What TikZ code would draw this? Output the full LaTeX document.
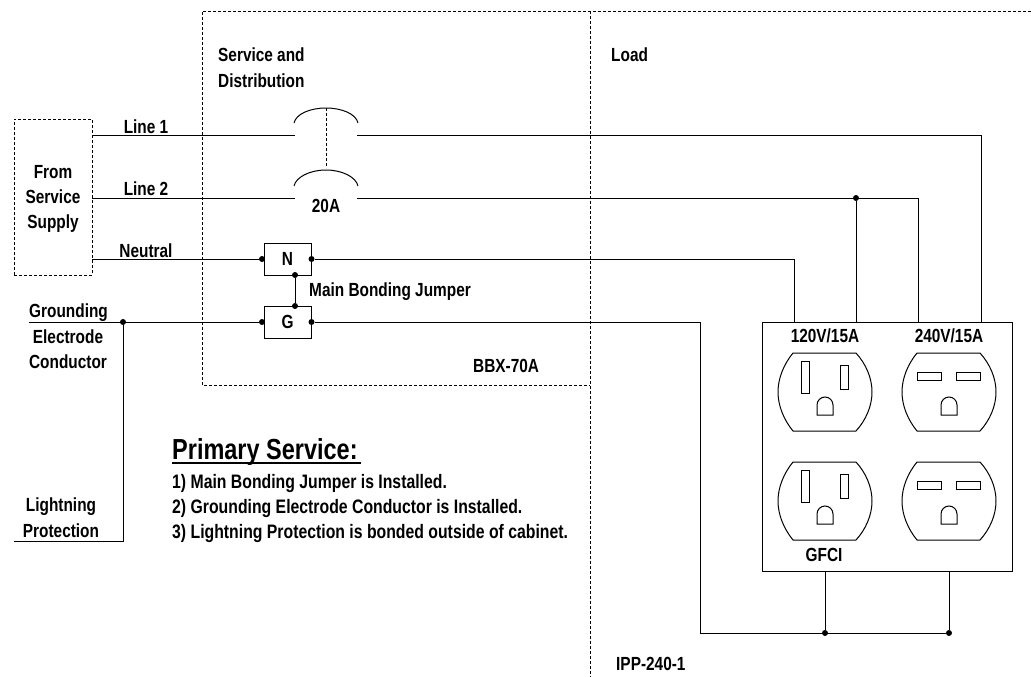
\documentclass[tikz,border=0pt]{standalone}
\usepackage{fontspec}
\setmainfont[FakeStretch=0.81]{Liberation Sans}
\tikzset{
  wire/.style={line width=1pt},
  dashline/.style={line width=0.8pt,densely dashed},
  lbl/.style={inner sep=0pt,anchor=base,font=\fontsize{19}{19}\selectfont\bfseries},
  lbll/.style={lbl,anchor=base west},
  note/.style={lbll,font=\fontsize{19.5}{19.5}\selectfont\bfseries},
  term/.style={draw,wire,minimum width=47pt,minimum height=32pt,inner sep=0pt,font=\fontsize{19}{19}\selectfont\bfseries},
  tdot/.style={circle,fill=black,inner sep=0pt,minimum size=6pt},
}
% one outlet face, slot shapes come after
\newcommand{\outletface}[2]{
  \draw[wire] (#1-32,#2-39) -- (#1+31,#2-39) .. controls (#1+41,#2-28) and (#1+47,#2-14) .. (#1+47,#2)
    .. controls (#1+47,#2+14) and (#1+41,#2+28) .. (#1+31,#2+39) -- (#1-32,#2+39)
    .. controls (#1-41,#2+28) and (#1-47,#2+14) .. (#1-47,#2)
    .. controls (#1-47,#2-14) and (#1-41,#2-28) .. (#1-32,#2-39) -- cycle;
  \draw[wire] (#1-8,#2+23) -- (#1-8,#2+13) arc[start angle=180,end angle=360,radius=8] -- (#1+8,#2+23) -- cycle;
}
\newcommand{\vslots}[2]{
  \draw[wire] (#1-24,#2-31) rectangle (#1-16,#2+1);
  \draw[wire] (#1+15,#2-27) rectangle (#1+23,#2-3);
}
\newcommand{\hslots}[2]{
  \draw[wire] (#1-32,#2-20) rectangle (#1-8,#2-12);
  \draw[wire] (#1+7,#2-20) rectangle (#1+31,#2-12);
}
\begin{document}
\begin{tikzpicture}[x=1pt,y=-1pt]
  \useasboundingbox (0,0) rectangle (1031,677);
  % dashed areas
  \node[draw,dashline,minimum width=78pt,minimum height=156pt,inner sep=0pt] (supply) at (53,197) {};
  \coordinate (svcA) at (202,11);
  \coordinate (svcB) at (590,11);
  \coordinate (svcC) at (590,385);
  \coordinate (svcD) at (202,385);
  \coordinate (loadEnd) at (590,677);
  \coordinate (loadTop) at (1031,11);
  \draw[dashline] (loadTop) -- (svcA) -- (svcD) -- (svcC);
  \draw[dashline] (svcB) -- (loadEnd);
  % terminals
  \node[term] (N) at (287.5,259) {N};
  \node[term] (G) at (287.5,322) {G};
  \node[tdot,xshift=-1.5pt] (Nin) at (N.west) {};
  \node[tdot] (Nout) at (N.east) {};
  \node[tdot,xshift=-1.5pt] (Ginn) at (G.west) {};
  \node[tdot] (Gout) at (G.east) {};
  \node[tdot] (Nbot) at (295,275) {};
  \node[tdot] (Gtop) at (295,306) {};
  \draw[wire] (Nbot) -- (Gtop);
  % breaker
  \coordinate (L1a) at (92,135);
  \coordinate (L1b) at (295,135);
  \coordinate (L1c) at (357,135);
  \coordinate (L1d) at (981,135);
  \coordinate (L2a) at (92,198);
  \coordinate (L2b) at (295,198);
  \coordinate (L2c) at (357,198);
  \coordinate (L2d) at (918,198);
  \draw[wire] (L1a) -- (L1b);
  \draw[wire] (L2a) -- (L2b);
  \draw[wire] (294,123) .. controls (296,114) and (310,108) .. (326,108) .. controls (342,108) and (356,114) .. (358,123);
  \draw[wire] (294,186) .. controls (296,177) and (310,170) .. (326,170) .. controls (342,170) and (356,177) .. (358,186);
  \coordinate (linkA) at (326,108);
  \coordinate (linkB) at (326,168);
  \draw[dashline] (linkA) -- (linkB);
  % outlet box
  \node[draw,wire,minimum width=250pt,minimum height=249pt,inner sep=0pt] (box) at (887,446.5) {};
  \outletface{825}{392}
  \vslots{825}{392}
  \outletface{949}{392}
  \hslots{949}{392}
  \outletface{825}{501}
  \vslots{825}{501}
  \outletface{949}{501}
  \hslots{949}{501}
  % wires to the box
  \draw[wire] (L1c) -- (L1d) -- (981,322);
  \draw[wire] (L2c) -- (L2d) -- (918,322);
  \node[tdot] (tap) at (856,198) {};
  \draw[wire] (tap) -- (856,322);
  \draw[wire] (92,259) -- (Nin);
  \draw[wire] (Nout) -- (794,259) -- (794,322);
  \node[tdot] (gndDot) at (123,322) {};
  \coordinate (gndL) at (29,322);
  \coordinate (lpL) at (14,541);
  \draw[wire] (gndL) -- (Ginn);
  \draw[wire] (gndDot) -- (123,541) -- (lpL);
  \node[tdot] (busA) at (825,633) {};
  \node[tdot] (busB) at (949,633) {};
  \draw[wire] (Gout) -- (700,322) -- (700,633) -- (busB);
  \draw[wire] (825,571) -- (busA);
  \draw[wire] (949,571) -- (busB);
  % labels
  \node[lbll] (svcText) at (218,62) {Service and};
  \node[lbll] (svcText2) at (218,88) {Distribution};
  \node[lbll] (loadText) at (611,62) {Load};
  \node[lbl] (fromA) at (53,178) {From};
  \node[lbl] (fromB) at (53,203) {Service};
  \node[lbl] (fromC) at (53,228) {Supply};
  \node[lbl] (line1) at (146,133) {Line 1};
  \node[lbl] (line2) at (146,195) {Line 2};
  \node[lbl] (neutral) at (146,257) {Neutral};
  \node[lbl] (rating) at (326,212) {20A};
  \node[lbll] (mbj) at (309,296) {Main Bonding Jumper};
  \node[lbl] (gndA) at (68.5,317) {Grounding};
  \node[lbl] (gndB) at (68,343) {Electrode};
  \node[lbl] (gndC) at (68,368) {Conductor};
  \node[lbl] (lpA) at (61,511) {Lightning};
  \node[lbl] (lpB) at (61,537) {Protection};
  \node[lbll] (bbx) at (473,372) {BBX-70A};
  \node[lbl] (v120) at (825,342) {120V/15A};
  \node[lbl] (v240) at (949,342) {240V/15A};
  \node[lbl] (gfci) at (824,561) {GFCI};
  \node[lbll] (ipp) at (616,670) {IPP-240-1};
  \node[inner sep=0pt,anchor=base west,font=\fontsize{29}{29}\selectfont\bfseries] (title) at (172,459) {Primary Service:};
  \coordinate (ulA) at (172,463);
  \coordinate (ulB) at (361,463);
  \draw[line width=2pt] (ulA) -- (ulB);
  \node[note] (noteA) at (172,488) {1) Main Bonding Jumper is Installed.};
  \node[note] (noteB) at (172,513) {2) Grounding Electrode Conductor is Installed.};
  \node[note] (noteC) at (172,538) {3) Lightning Protection is bonded outside of cabinet.};
\end{tikzpicture}
\end{document}
